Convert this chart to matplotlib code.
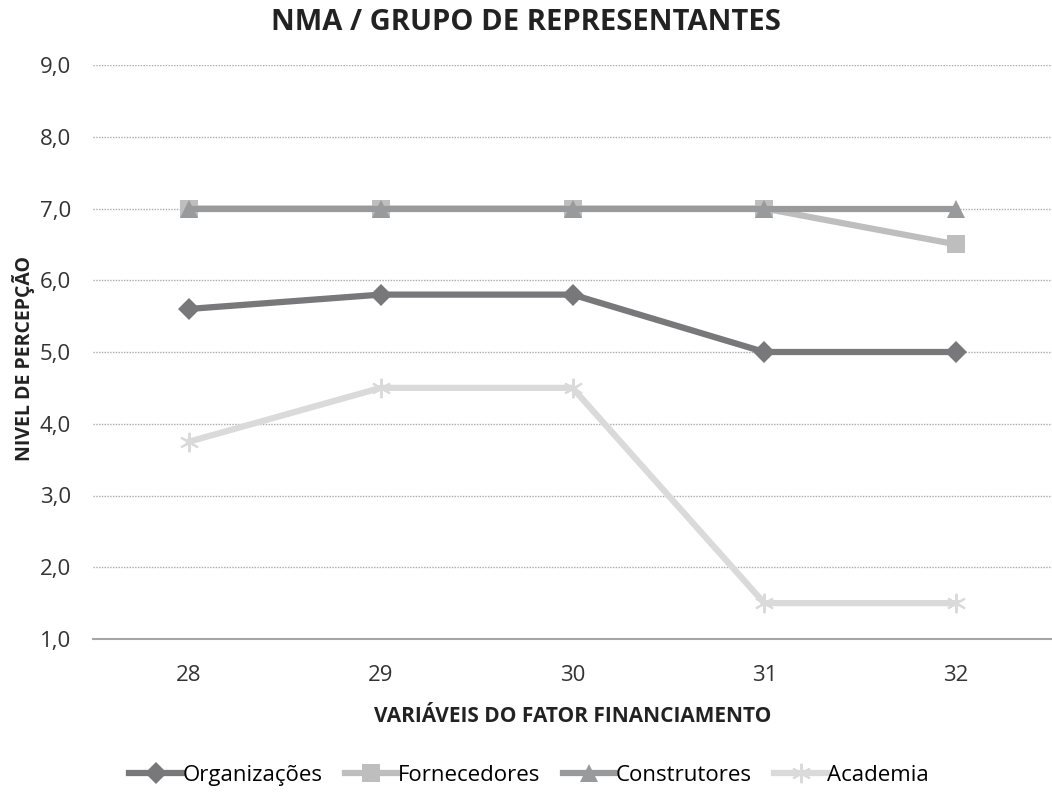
import matplotlib
matplotlib.use("Agg")
import matplotlib.pyplot as plt

# data
variaveis = ["28", "29", "30", "31", "32"]
organizacoes = [5.6, 5.8, 5.8, 5.0, 5.0]
fornecedores = [7.0, 7.0, 7.0, 7.0, 6.5]
construtores = [7.0, 7.0, 7.0, 7.0, 7.0]
academia = [3.75, 4.5, 4.5, 1.5, 1.5]
y_ticks = [1, 2, 3, 4, 5, 6, 7, 8, 9]

plt.rcParams['font.family'] = ['Open Sans', 'DejaVu Sans']

fig = plt.figure(figsize=(10.52, 7.93), dpi=100)
ax = fig.add_axes([93 / 1052, 1 - 639 / 793, (1052 - 93) / 1052, (639 - 65) / 793])

x = list(range(len(variaveis)))

# series: (label, values, colour, marker, size)
series = [
    ("Organizações", organizacoes, "#78787a", "D", 11),
    ("Fornecedores", fornecedores, "#bebebe", "s", 13),
    ("Construtores", construtores, "#999a9c", "^", 13),
    ("Academia", academia, "#dadada", (6, 2, 0), 14),
]

for label, vals, color, marker, ms in series:
    ax.plot(x, vals, color=color, lw=4.5, marker=marker, markersize=ms,
            markeredgewidth=1.5 if marker == (6, 2, 0) else 0, markeredgecolor=color,
            label=label)

ax.set_xlim(-0.5, len(variaveis) - 0.5)
ax.set_ylim(1, 9)
ax.set_xticks(x)
ax.set_xticklabels(variaveis)
ax.set_yticks(y_ticks)
ax.set_yticklabels(["{:.1f}".format(v).replace(".", ",") for v in y_ticks])

ax.yaxis.grid(True, linestyle=(0, (1, 1)), color="#aaaaaa", lw=1)
ax.set_axisbelow(True)
for s in ["top", "right", "left"]:
    ax.spines[s].set_visible(False)
ax.spines["bottom"].set_color("#a6a6a6")
ax.spines["bottom"].set_linewidth(1.5)
ax.tick_params(axis="both", length=0, labelsize=16, colors="#333333")
ax.tick_params(axis="y", pad=16)
ax.tick_params(axis="x", pad=19)

ax.set_xlabel("VARIÁVEIS DO FATOR FINANCIAMENTO", fontsize=15, fontweight="bold",
              color="#222222", labelpad=14)
fig.text(24 / 1052, 1 - 358 / 793, "NIVEL DE PERCEPÇÃO", rotation=90, fontsize=14,
         fontweight="bold", color="#222222", ha="center", va="center")
fig.suptitle("NMA / GRUPO DE REPRESENTANTES", fontsize=21, fontweight="bold",
             color="#222222", x=0.5, y=0.99)

fig.legend(loc="center", bbox_to_anchor=(0.503, 0.022), ncol=4, frameon=False,
           fontsize=16, handlelength=2.4, handletextpad=0.0, columnspacing=1.0)

fig.savefig("out.png", dpi=100)
